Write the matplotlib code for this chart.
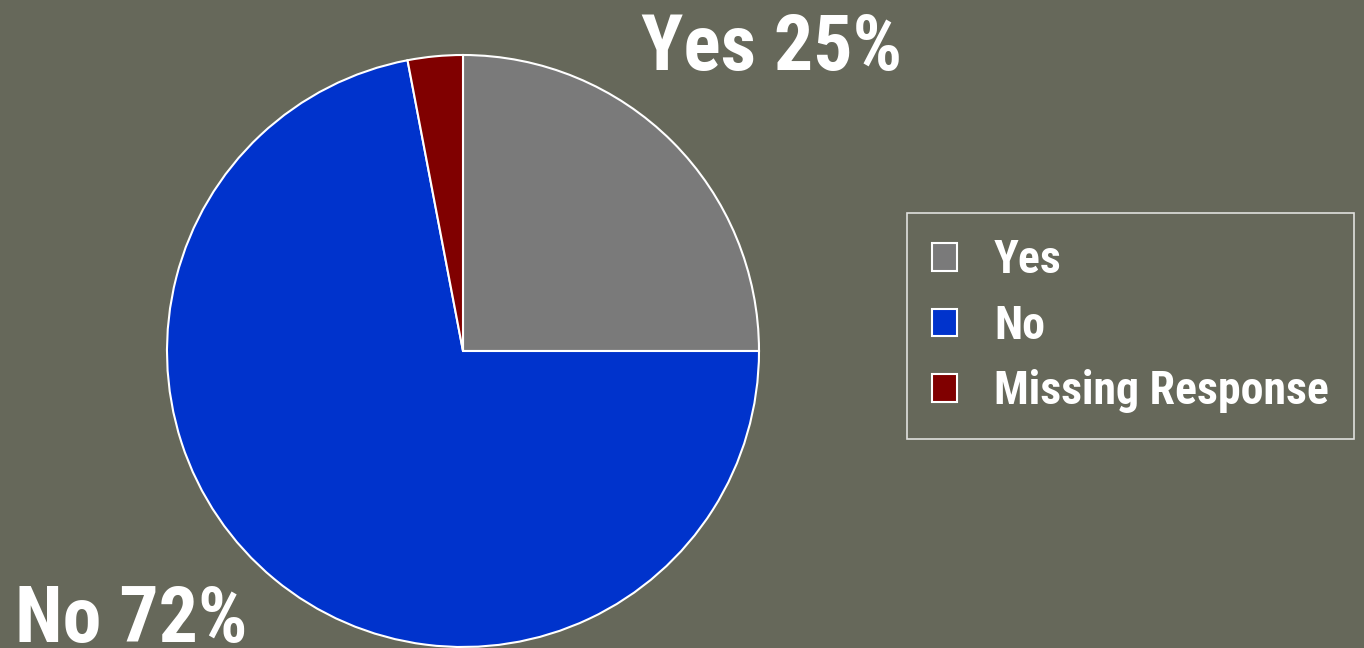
import matplotlib.pyplot as plt
from matplotlib import font_manager

labels = ["Yes", "No", "Missing Response"]
values = [25, 72, 3]
colors = ["#7a7a7a", "#0033cc", "#800000"]
bg = "#66685a"

names = {f.name for f in font_manager.fontManager.ttflist}
family = ["Roboto Condensed", "PT Sans Narrow", "Liberation Sans", "DejaVu Sans"]
family = [f for f in family if f in names] or ["DejaVu Sans"]
plt.rcParams["font.family"] = family
plt.rcParams["font.weight"] = "bold"

fig = plt.figure(figsize=(13.64, 6.48), dpi=100, facecolor=bg)

# pie centre at (463, 351) px, radius 296 px
cx, cy, r = 463, 351, 296
ax = fig.add_axes([(cx - r) / 1364, (648 - cy - r) / 648, 2 * r / 1364, 2 * r / 648])
ax.set_facecolor(bg)
wedges, _ = ax.pie(values, colors=colors, startangle=90, counterclock=False,
                   radius=1, wedgeprops=dict(edgecolor="white", linewidth=1.5))
ax.set_xlim(-1, 1)
ax.set_ylim(-1, 1)
ax.set_aspect("equal")
ax.axis("off")

fig.text(641 / 1364, 1 - 70 / 648, f"{labels[0]} {values[0]}%", color="white",
         fontsize=56, fontweight="bold", ha="left", va="baseline")
fig.text(15 / 1364, 1 - 642 / 648, f"{labels[1]} {values[1]}%", color="white",
         fontsize=56, fontweight="bold", ha="left", va="baseline")

leg = fig.legend(wedges, labels, loc="upper left",
                 bbox_to_anchor=(907 / 1364, 1 - 213 / 648),
                 frameon=True, fancybox=False, facecolor="none", edgecolor="white",
                 prop=dict(size=33, weight="bold"), labelcolor="white",
                 handlelength=0.55, handleheight=0.55, handletextpad=0.8,
                 labelspacing=0.47, borderpad=0.55, borderaxespad=0)
leg.get_frame().set_linewidth(1.2)

fig.savefig("out.png", dpi=100, facecolor=bg)
